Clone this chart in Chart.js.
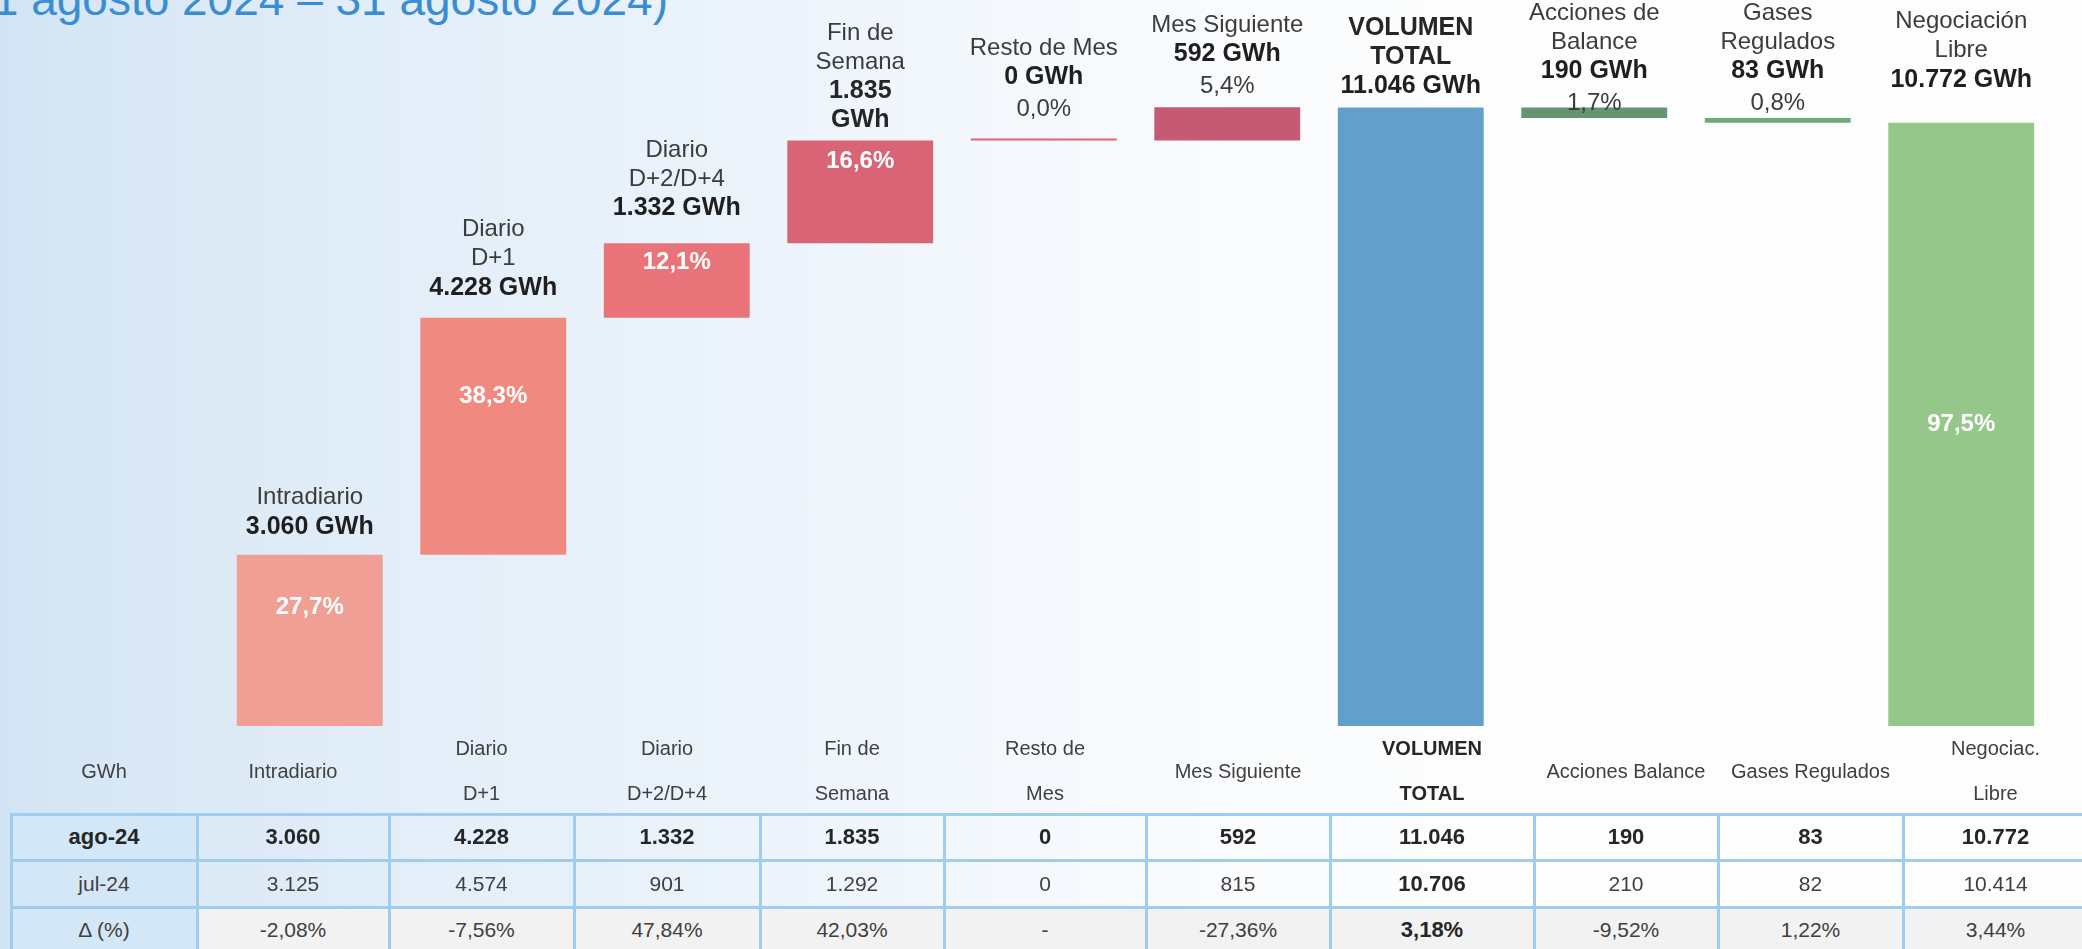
<!DOCTYPE html>
<html lang="es">
<head>
<meta charset="utf-8">
<script src="https://cdn.jsdelivr.net/npm/chart.js@4.4.1/dist/chart.umd.min.js"></script>
<style>
  html, body { margin: 0; padding: 0; }
  body {
    width: 2082px; height: 949px; overflow: hidden; position: relative;
    font-family: "Liberation Sans", Arial, sans-serif;
    background: linear-gradient(90deg, #d2e4f4 0%, #dbe9f6 8%, #e4eff9 22%, #edf4fb 38%, #f5f9fd 50%, #fafcfe 60%, #fdfdfd 72%, #fdfdfd 100%);
  }
  #title {
    position: absolute; right: 1414px; top: -24px;
    font-size: 46px; line-height: 46px; color: #3a8dd2; white-space: nowrap;
  }
  #chart { position: absolute; left: 0; top: 0; }
  #table { position: absolute; left: 0; top: 0; width: 2082px; height: 949px; pointer-events: none; }
  .cell { position: absolute; display: flex; align-items: center; justify-content: center; color: #404040; font-size: 21px; text-align: center; }
  .head { flex-direction: column; font-size: 20px; line-height: 45px; }
  .b { font-weight: bold; color: #262626; font-size: 22px; }
  .hl { position: absolute; background: #a0cdee; }
</style>
</head>
<body>
<div id="title">(1 agosto 2024 – 31 agosto 2024)</div>
<canvas id="chart" width="2082" height="949"></canvas>
<div id="table"></div>
<script>
// ---------------- data ----------------
const categories = ['Intradiario', 'Diario D+1', 'Diario D+2/D+4', 'Fin de Semana', 'Resto de Mes',
  'Mes Siguiente', 'VOLUMEN TOTAL', 'Acciones de Balance', 'Gases Regulados', 'Negociación Libre'];
const volAgo24 = [3060, 4228, 1332, 1835, 0, 592, 11046, 190, 83, 10772];
const volJul24 = [3125, 4574, 901, 1292, 0, 815, 10706, 210, 82, 10414];
const deltaPct = ['-2,08%', '-7,56%', '47,84%', '42,03%', '-', '-27,36%', '3,18%', '-9,52%', '1,22%', '3,44%'];
const sharePct = ['27,7%', '38,3%', '12,1%', '16,6%', '0,0%', '5,4%', null, '1,7%', '0,8%', '97,5%'];
const barKind = ['up', 'up', 'up', 'up', 'up', 'up', 'total', 'down', 'down', 'total'];
const chartLabelLines = [['Intradiario'], ['Diario', 'D+1'], ['Diario', 'D+2/D+4'], ['Fin de', 'Semana'],
  ['Resto de Mes'], ['Mes Siguiente'], ['VOLUMEN', 'TOTAL'], ['Acciones de', 'Balance'], ['Gases', 'Regulados'], ['Negociación', 'Libre']];
const rowLabels = ['ago-24', 'jul-24', 'Δ (%)'];
const tableHeads = [['GWh'], ['Intradiario'], ['Diario', 'D+1'], ['Diario', 'D+2/D+4'], ['Fin de', 'Semana'],
  ['Resto de', 'Mes'], ['Mes Siguiente'], ['VOLUMEN', 'TOTAL'], ['Acciones Balance'], ['Gases Regulados'], ['Negociac.', 'Libre']];

// ---------------- style / layout ----------------
const barColors = ['#f09f94', '#f08a81', '#e8747a', '#d96476', '#de6474', '#c65a75', '#62a0cb', '#659473', '#6eab7b', '#95c68a'];
const nameBold = [false, false, false, false, false, false, true, false, false, false];
const valueBreak = [false, false, false, true, false, false, false, false, false, false];
const pctPlace = ['in', 'in', 'in', 'in', 'above', 'above', 'none', 'above', 'above', 'in'];
const pctInsideFrac = [0.31, 0.33, 0.26, 0.2, 0, 0, 0, 0, 0, 0.5];
const labelGap = [28, 30, 35, 20, 29, 21, 21, 4, 15, 43];
const colEdges = [11, 197, 389, 574, 760, 944, 1146, 1330, 1534, 1718, 1903, 2088];
const rowEdges = [814, 860, 907, 953];

function fmt(n) { return String(n).replace(/\B(?=(\d{3})+(?!\d))/g, '.'); }

// floating ranges for the waterfall
const ranges = [];
let run = 0;
volAgo24.forEach((v, i) => {
  if (barKind[i] === 'up') { ranges.push([run, run + v]); run += v; }
  else if (barKind[i] === 'total') { ranges.push([0, v]); run = v; }
  else { ranges.push([run - v, run]); run -= v; }
});

const REG = '24px "Liberation Sans", Arial, sans-serif';
const BOLD = 'bold 25px "Liberation Sans", Arial, sans-serif';
const PIN = 'bold 24px "Liberation Sans", Arial, sans-serif';

const labelPlugin = {
  id: 'wfLabels',
  afterDatasetsDraw(chart) {
    const ctx = chart.ctx;
    const meta = chart.getDatasetMeta(0);
    ctx.save();
    ctx.textAlign = 'center';
    ctx.textBaseline = 'middle';
    meta.data.forEach((el, i) => {
      const top = Math.min(el.y, el.base), bottom = Math.max(el.y, el.base);
      const x = el.x;
      const lines = [];
      chartLabelLines[i].forEach(t => lines.push({ t, font: nameBold[i] ? BOLD : REG, color: nameBold[i] ? '#262626' : '#3c3c3c' }));
      if (valueBreak[i]) {
        lines.push({ t: fmt(volAgo24[i]), font: BOLD, color: '#262626' });
        lines.push({ t: 'GWh', font: BOLD, color: '#262626' });
      } else {
        lines.push({ t: fmt(volAgo24[i]) + ' GWh', font: BOLD, color: '#1f1f1f' });
      }
      if (pctPlace[i] === 'above') lines.push({ t: sharePct[i], font: REG, color: '#3c3c3c', pct: true });
      let y = top - labelGap[i];
      for (let k = lines.length - 1; k >= 0; k--) {
        ctx.font = lines[k].font;
        ctx.fillStyle = lines[k].color;
        ctx.fillText(lines[k].t, x, y);
        y -= lines[k].pct ? 32 : 29;
      }
      if (pctPlace[i] === 'in') {
        ctx.font = PIN;
        ctx.fillStyle = '#ffffff';
        ctx.fillText(sharePct[i], x, top + pctInsideFrac[i] * (bottom - top));
      }
    });
    ctx.restore();
  }
};

new Chart(document.getElementById('chart'), {
  type: 'bar',
  data: {
    labels: categories,
    datasets: [{
      data: ranges,
      backgroundColor: barColors,
      borderWidth: 0,
      barPercentage: 0.795,
      categoryPercentage: 1,
      minBarLength: 2
    }]
  },
  options: {
    responsive: false,
    animation: false,
    devicePixelRatio: 1,
    layout: { padding: { left: 218, right: 29, top: 54, bottom: 223 } },
    scales: {
      x: { display: false },
      y: { display: false, min: 0, max: 12000 }
    },
    plugins: { legend: { display: false }, tooltip: { enabled: false } }
  },
  plugins: [labelPlugin]
});

// ---------------- table ----------------
const tbl = document.getElementById('table');
function addCell(x0, x1, y0, y1, html, cls, bg) {
  const d = document.createElement('div');
  d.className = 'cell ' + (cls || '');
  d.style.left = x0 + 'px'; d.style.top = y0 + 'px';
  d.style.width = (x1 - x0) + 'px'; d.style.height = (y1 - y0) + 'px';
  if (bg) d.style.background = bg;
  d.innerHTML = html;
  tbl.appendChild(d);
}
// header
tableHeads.forEach((h, c) => {
  const bold = h[0] === 'VOLUMEN';
  addCell(colEdges[c], colEdges[c + 1], 726, 816,
    h.map(t => '<div' + (bold ? ' style="font-weight:bold;color:#262626"' : '') + '>' + t + '</div>').join(''), 'head');
});
// body
const bodyRows = [volAgo24.map(fmt), volJul24.map(fmt), deltaPct];
bodyRows.forEach((row, r) => {
  const y0 = rowEdges[r], y1 = rowEdges[r + 1];
  addCell(colEdges[0], colEdges[1], y0, y1, rowLabels[r], r === 0 ? 'b' : '', '#d4e7f7');
  row.forEach((v, c) => {
    const bold = r === 0 || c === 6;
    addCell(colEdges[c + 1], colEdges[c + 2], y0, y1, v, bold ? 'b' : '', r === 2 ? '#f2f2f2' : null);
  });
});
// grid lines
rowEdges.forEach(y => {
  const d = document.createElement('div'); d.className = 'hl';
  d.style.left = (colEdges[0] - 1) + 'px'; d.style.top = (y - 1) + 'px';
  d.style.width = (colEdges[colEdges.length - 1] - colEdges[0] + 2) + 'px'; d.style.height = '3px';
  tbl.appendChild(d);
});
colEdges.forEach(x => {
  const d = document.createElement('div'); d.className = 'hl';
  d.style.left = (x - 1) + 'px'; d.style.top = (rowEdges[0] - 1) + 'px';
  d.style.width = '3px'; d.style.height = (rowEdges[rowEdges.length - 1] - rowEdges[0] + 2) + 'px';
  tbl.appendChild(d);
});
</script>
</body>
</html>
